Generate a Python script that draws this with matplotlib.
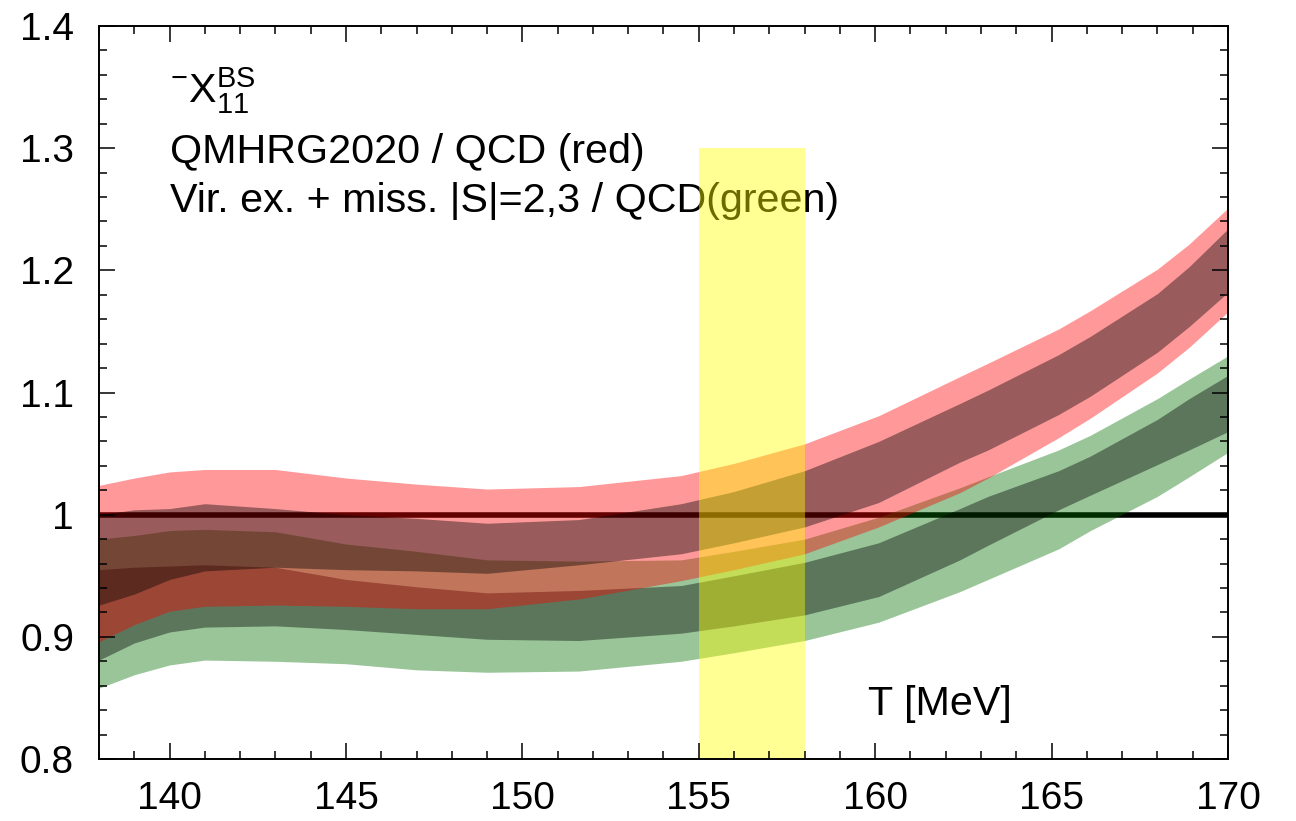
import matplotlib
matplotlib.use('Agg')
import matplotlib.pyplot as plt
from matplotlib.ticker import MultipleLocator, FuncFormatter

plt.rcParams['font.family'] = ['Liberation Sans', 'DejaVu Sans']
plt.rcParams['mathtext.fontset'] = 'custom'
plt.rcParams['mathtext.rm'] = 'Liberation Sans'
plt.rcParams['mathtext.it'] = 'Liberation Sans:italic'

# temperature grid [MeV]
T = [138, 139, 140, 141, 143, 145, 147, 149, 151.6, 154.5, 156, 158, 160.1, 162.4, 163.2, 165.2, 166.1, 168.0, 168.9, 170]

# QMHRG2020 / QCD (red): outer and inner band
red_outer_hi = [1.024, 1.030, 1.035, 1.037, 1.037, 1.030, 1.025, 1.021, 1.023, 1.032, 1.042, 1.058, 1.081, 1.113, 1.124, 1.152, 1.167, 1.201, 1.2215, 1.251]
red_inner_hi = [1.000, 1.004, 1.005, 1.009, 1.005, 1.000, 0.997, 0.993, 0.996, 1.009, 1.019, 1.036, 1.060, 1.091, 1.102, 1.131, 1.146, 1.181, 1.203, 1.234]
red_inner_lo = [0.926, 0.935, 0.947, 0.954, 0.957, 0.955, 0.954, 0.952, 0.959, 0.968, 0.977, 0.990, 1.010, 1.043, 1.053, 1.082, 1.097, 1.133, 1.154, 1.182]
red_outer_lo = [0.896, 0.910, 0.921, 0.925, 0.926, 0.925, 0.923, 0.923, 0.931, 0.946, 0.955, 0.968, 0.990, 1.018, 1.030, 1.063, 1.079, 1.116, 1.137, 1.166]

# Vir. ex. + miss. |S|=2,3 / QCD (green)
green_outer_hi = [0.980, 0.983, 0.987, 0.988, 0.986, 0.976, 0.970, 0.963, 0.962, 0.963, 0.970, 0.980, 0.998, 1.022, 1.031, 1.053, 1.065, 1.095, 1.111, 1.130]
green_inner_hi = [0.955, 0.957, 0.958, 0.959, 0.957, 0.947, 0.941, 0.936, 0.938, 0.942, 0.950, 0.961, 0.977, 1.005, 1.015, 1.036, 1.048, 1.078, 1.095, 1.114]
green_inner_lo = [0.881, 0.895, 0.904, 0.908, 0.909, 0.906, 0.902, 0.898, 0.897, 0.903, 0.909, 0.918, 0.933, 0.963, 0.975, 1.004, 1.016, 1.041, 1.053, 1.068]
green_outer_lo = [0.858, 0.869, 0.877, 0.881, 0.880, 0.878, 0.873, 0.871, 0.872, 0.880, 0.887, 0.897, 0.912, 0.937, 0.947, 0.972, 0.987, 1.015, 1.031, 1.051]

# pseudo-critical temperature range
tc_range = [155, 158]
tc_ymax = 1.3

fig = plt.figure(figsize=(12.96, 8.21), dpi=100)
ax = fig.add_axes([0.0764, 0.0755, 0.8711, 0.8928])

ax.axhline(1.0, color='black', lw=4, zorder=1)

# green bands first, red bands on top, inner bands as dark overlay
ax.fill_between(T, green_outer_lo, green_outer_hi, color=(0, 0.44, 0), alpha=0.4, lw=0, zorder=2)
ax.fill_between(T, green_inner_lo, green_inner_hi, color='black', alpha=0.4, lw=0, zorder=3)
ax.fill_between(T, red_outer_lo, red_outer_hi, color='red', alpha=0.4, lw=0, zorder=4)
ax.fill_between(T, red_inner_lo, red_inner_hi, color='black', alpha=0.4, lw=0, zorder=5)

# yellow band goes over everything, text included
ax.fill_between(tc_range, 0.8, tc_ymax, color='yellow', alpha=0.42, lw=0, zorder=10)

fs = 29.7
ax.text(140, 1.337, r'$^{-}$X$^{\mathrm{BS}}_{\mathrm{11}}$', fontsize=fs, va='baseline', zorder=6)
ax.text(140, 1.288, 'QMHRG2020 / QCD (red)', fontsize=fs, va='baseline', zorder=6)
ax.text(140, 1.248, 'Vir. ex. + miss. |S|=2,3 / QCD(green)', fontsize=fs, va='baseline', zorder=6)
ax.text(159.8, 0.836, 'T [MeV]', fontsize=fs, va='baseline', zorder=6)

ax.set_xlim(138, 170)
ax.set_ylim(0.8, 1.4)
ax.xaxis.set_major_locator(MultipleLocator(5))
ax.xaxis.set_minor_locator(MultipleLocator(1))
ax.yaxis.set_major_locator(MultipleLocator(0.1))
ax.yaxis.set_minor_locator(MultipleLocator(0.02))
ax.yaxis.set_major_formatter(FuncFormatter(lambda v, _: f'{round(v, 2):g}'))

ax.tick_params(which='both', direction='in', top=True, right=True, width=1.1, labelsize=28)
ax.tick_params(which='major', length=11.5)
ax.tick_params(which='minor', length=5.5)
ax.tick_params(axis='x', pad=16)
ax.tick_params(axis='y', pad=18)

for s in ax.spines.values():
    s.set_linewidth(1.4)
    s.set_zorder(11)
ax.xaxis.set_zorder(11)
ax.yaxis.set_zorder(11)

fig.savefig('out.png', dpi=100)
